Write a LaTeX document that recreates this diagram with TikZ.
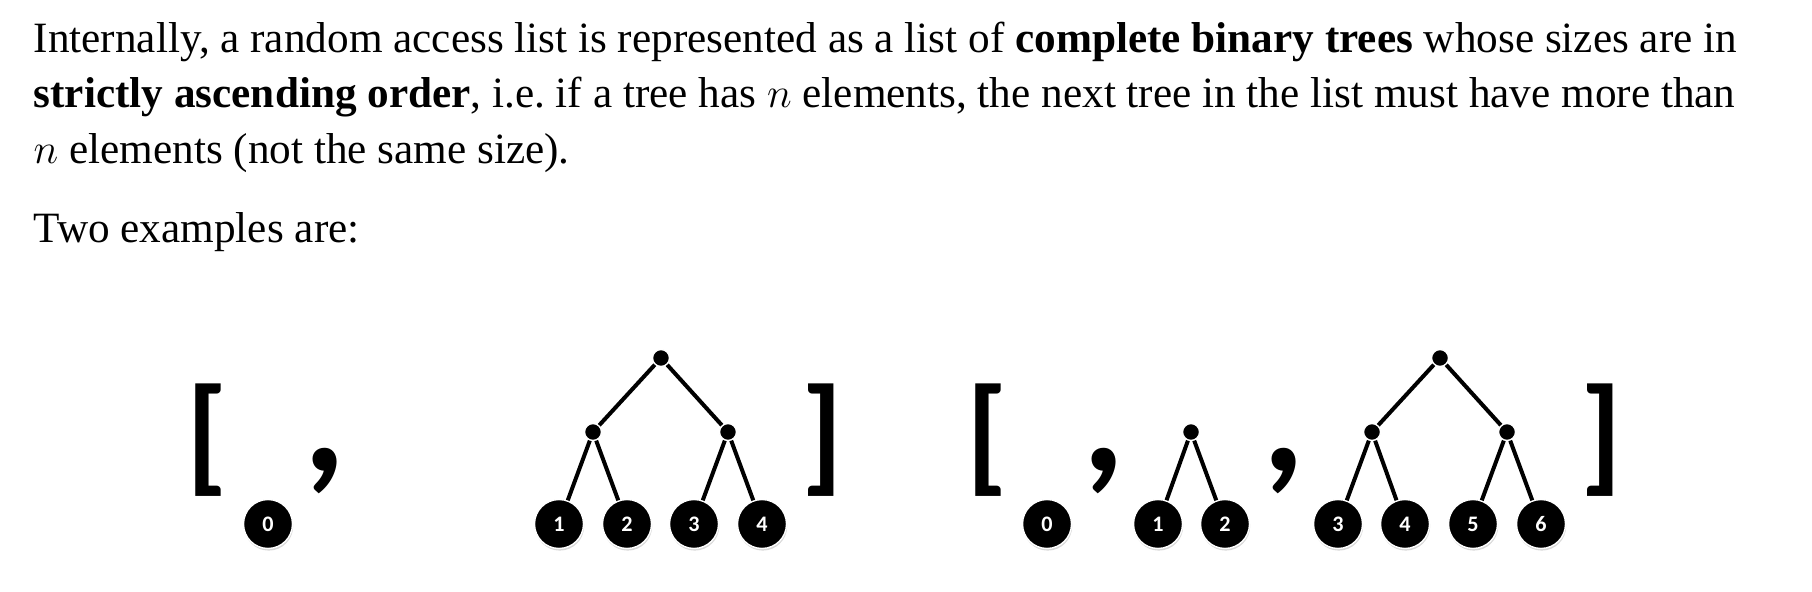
\documentclass[tikz,border=0pt]{standalone}
\usepackage{fontspec}
\setmainfont{Liberation Serif}
\newfontfamily\calfont{Carlito}
\usetikzlibrary{shadows}
\begin{document}
\begin{tikzpicture}[x=0.1mm,y=-0.1mm,
 txt/.style={anchor=base west,inner sep=0pt,font=\fontsize{12.3}{14}\selectfont},
 leaf/.style={circle,fill=black,draw=white,line width=0.4pt,minimum size=4.9mm,inner
 sep=0pt,text=white,font=\calfont\bfseries\fontsize{6.3}{7}\selectfont,
 drop shadow={shadow xshift=0.2pt,shadow yshift=-0.6pt,opacity=0.3}},
 ele/.style={circle,fill=black,draw=white,line width=0.4pt,minimum size=1.7mm,inner sep=0pt},
 brack/.style={anchor=base,inner sep=0pt,font=\calfont\bfseries\fontsize{36.5}{40}\selectfont},
 punct/.style={anchor=base,inner sep=0pt,font=\calfont\bfseries\fontsize{47}{50}\selectfont},
 edge/.style={line width=0.4mm}]
 \useasboundingbox (0,0) rectangle (1812,592);

 \node[txt] (intro1) at (33,53) {Internally, a random access list is represented as a list of \textbf{complete binary trees} whose sizes are in};
 \node[txt] (intro2) at (33,108) {\textbf{strictly ascending order}, i.e.\ if a tree has $n$ elements, the next tree in the list must have more than};
 \node[txt] (intro3) at (33,164) {$n$ elements (not the same size).};
 \node[txt] (twoex) at (33,243) {Two examples are:};

 % first example
 \node[brack] (lbA) at (207,478) {[};
 \node[punct] (cmA) at (325,472) {,};
 \node[brack] (rbA) at (822,478) {]};
 \node[leaf] (a0) at (268,524) {0};
 \node[ele] (ar) at (661,358) {};
 \node[ele] (am1) at (593,432) {};
 \node[ele] (am2) at (728,432) {};
 \node[leaf] (a1) at (559,524) {1};
 \node[leaf] (a2) at (627,524) {2};
 \node[leaf] (a3) at (694,524) {3};
 \node[leaf] (a4) at (762,524) {4};
 \draw[edge] (ar) -- (am1);
 \draw[edge] (ar) -- (am2);
 \draw[edge] (am1) -- (a1);
 \draw[edge] (am1) -- (a2);
 \draw[edge] (am2) -- (a3);
 \draw[edge] (am2) -- (a4);

 % second example
 \node[brack] (lbB) at (987,478) {[};
 \node[punct] (cmB1) at (1104,472) {,};
 \node[punct] (cmB2) at (1284,472) {,};
 \node[brack] (rbB) at (1601,478) {]};
 \node[leaf] (b0) at (1047,524) {0};
 \node[ele] (bs) at (1191,432) {};
 \node[leaf] (b1) at (1158,524) {1};
 \node[leaf] (b2) at (1225,524) {2};
 \node[ele] (br) at (1440,358) {};
 \node[ele] (bm1) at (1372,432) {};
 \node[ele] (bm2) at (1507,432) {};
 \node[leaf] (b3) at (1338,524) {3};
 \node[leaf] (b4) at (1405,524) {4};
 \node[leaf] (b5) at (1473,524) {5};
 \node[leaf] (b6) at (1541,524) {6};
 \draw[edge] (bs) -- (b1);
 \draw[edge] (bs) -- (b2);
 \draw[edge] (br) -- (bm1);
 \draw[edge] (br) -- (bm2);
 \draw[edge] (bm1) -- (b3);
 \draw[edge] (bm1) -- (b4);
 \draw[edge] (bm2) -- (b5);
 \draw[edge] (bm2) -- (b6);
\end{tikzpicture}
\end{document}
